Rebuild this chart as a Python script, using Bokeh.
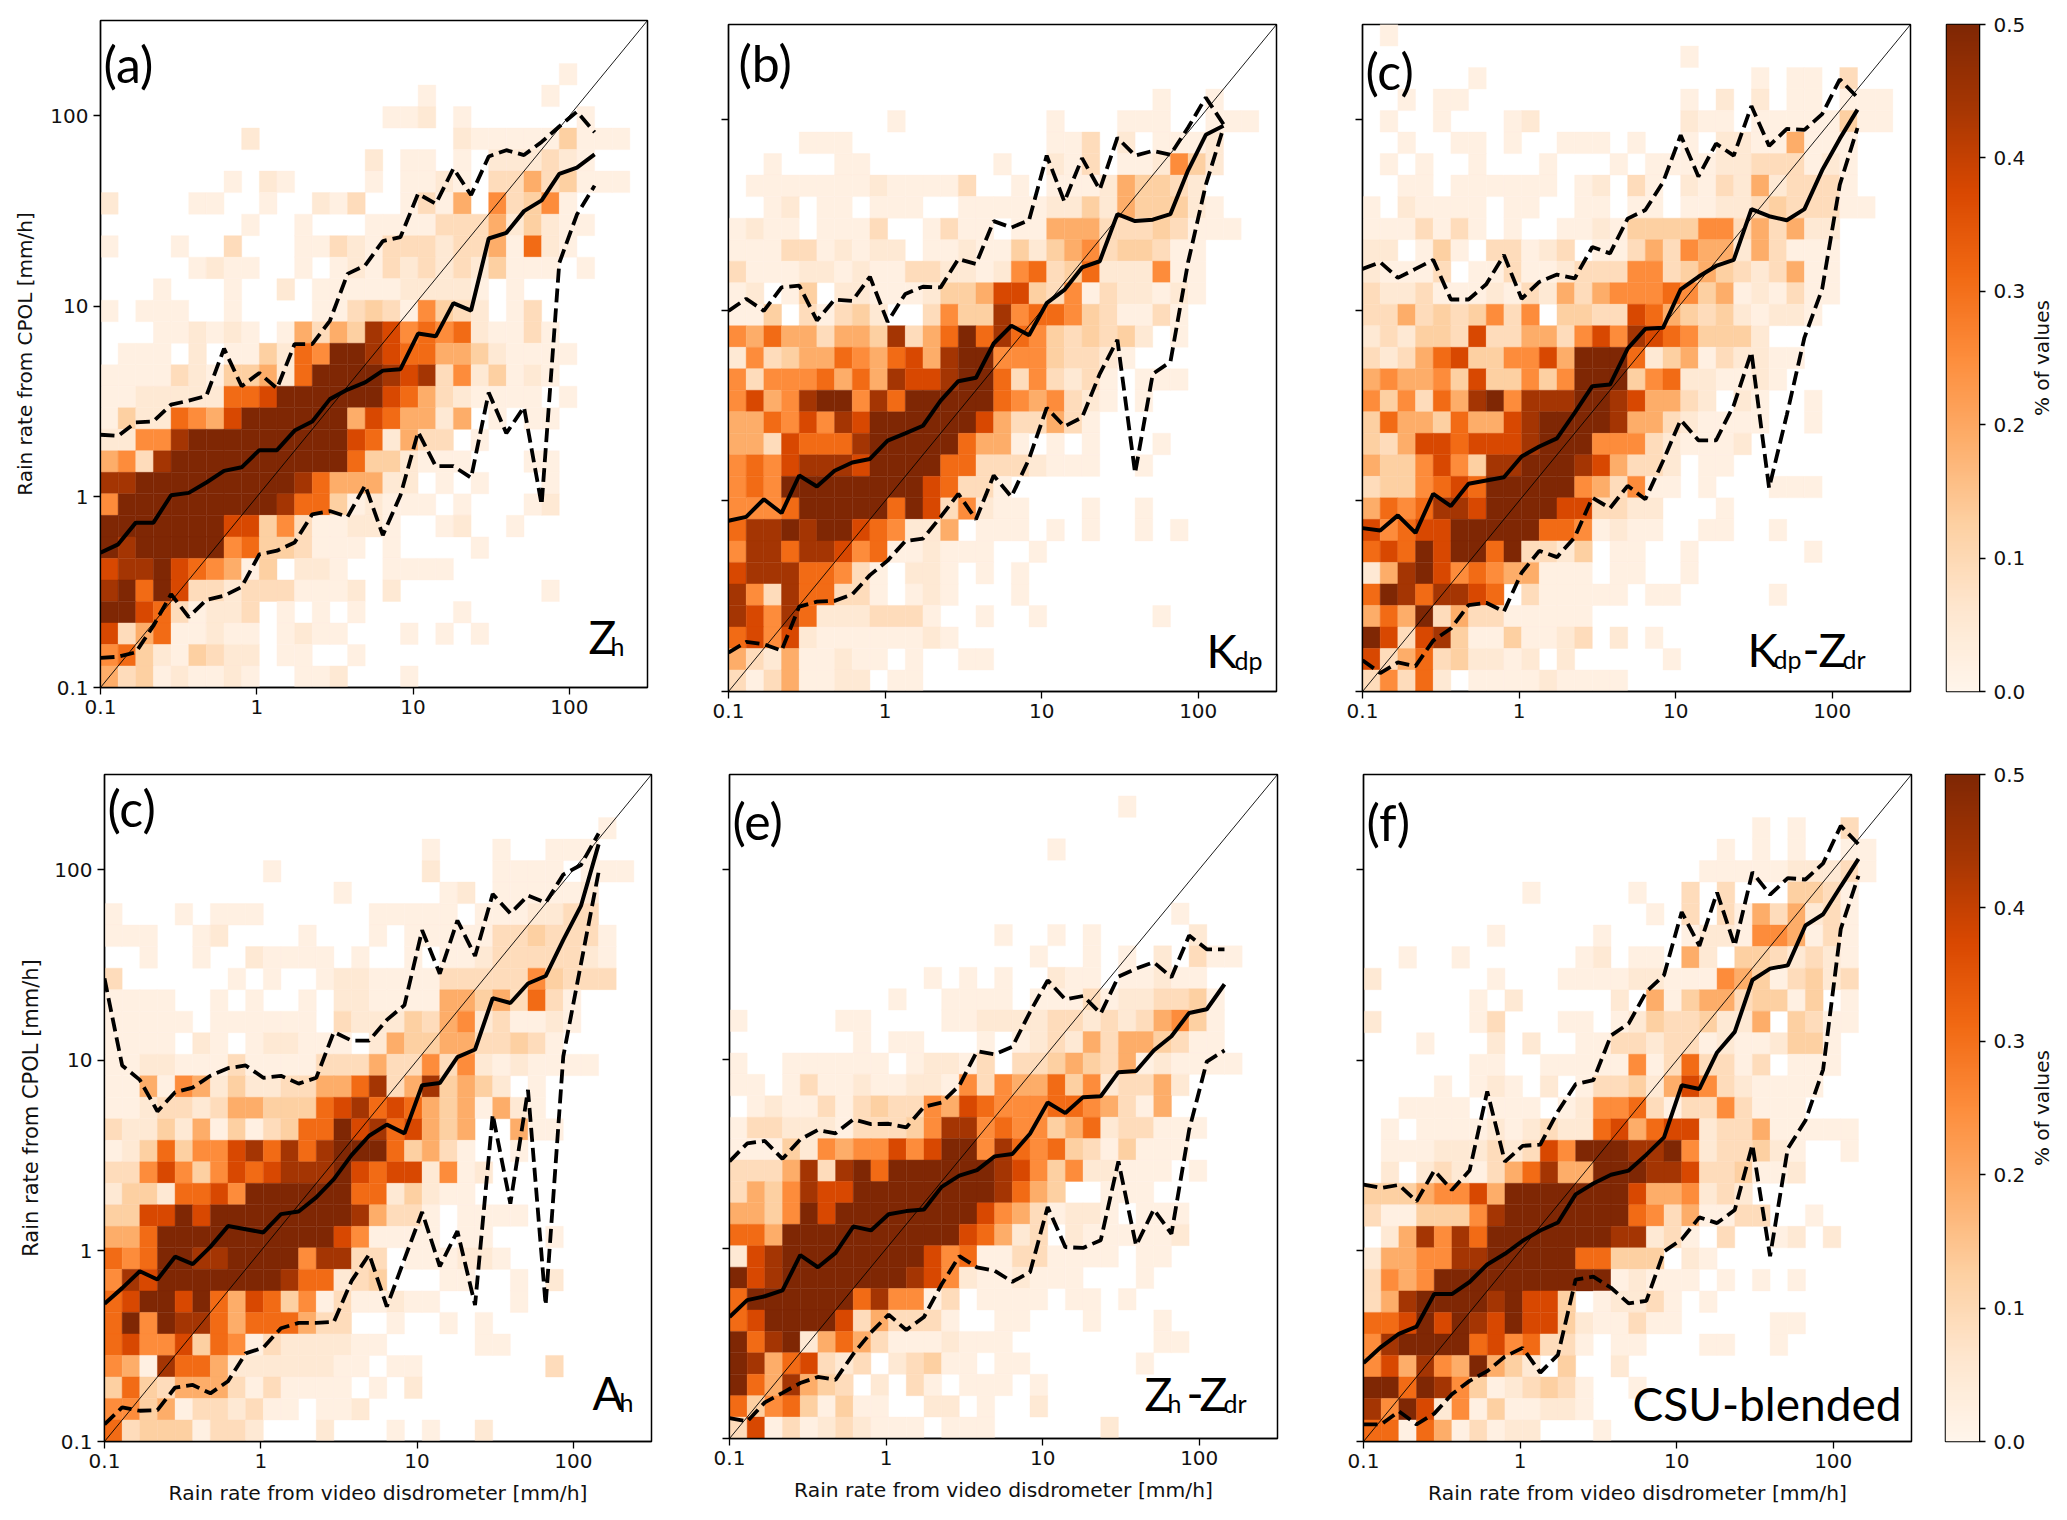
from bokeh.plotting import figure
from bokeh.layouts import column, row
from bokeh.models import ColumnDataSource, LinearColorMapper, FixedTicker, Label
from bokeh.palettes import Oranges256
from bokeh.embed import file_html
from bokeh.resources import INLINE
import numpy as np

BIN_EDGES = [0.1, 0.1297, 0.1682, 0.2181, 0.2829, 0.3669, 0.4758, 0.6171, 0.8003, 1.038, 1.346, 1.746,
             2.264, 2.936, 3.808, 4.938, 6.404, 8.305, 10.77, 13.97, 18.12, 23.5, 30.47, 39.52, 51.25,
             66.47, 86.2, 111.8, 145.0, 188.0, 243.8, 316.2]
AXIS_TICKS = [0.1, 1, 10, 100]
CBAR_TICKS = [0.0, 0.1, 0.2, 0.3, 0.4, 0.5]
LEVELS = {"1": 0.02, "2": 0.05, "3": 0.09, "4": 0.125, "5": 0.19, "6": 0.25, "7": 0.31, "8": 0.375, "9": 0.44, "a": 0.5}

# rows listed top (high CPOL rate) to bottom; columns left to right; "." = no values
HEAT_A = ["", "",
 "..... ..... ..... ..... ..... .1",
 "..... ..... ..... ...1. ..... 1",
 "..... ..... ..... .112. 1.... ..1",
 "..... ...2. ..... ..... 21111 14111",
 "..... ..... ..... 2.11. 1.222 321",
 "..... ..1.2 1.... 1.112 1.335 34111",
 "2.... 11..1 ..213 ..131 5.634 61",
 "..... ...1. .1... 11113 33524 211",
 "1...1 ..3.. .1132 13332 33517 21",
 "..... 1211. .1.12 13232 32411 1.1",
 "...1. ..1.. 2.111 11222 21.1.",
 "1.111 ..1.. ..113 43164 32.13",
 "...11 2121. 15354 98676 72113 1",
 ".111. 2.114 276aa 98775 54211 11",
 "11113 21445 27aaa a9893 62412 1",
 "11222 22778 aaaaa a8753 21111 .1",
 "14227 658aa aaaa5 87552 5.1.1 1",
 "22669 aaaaa aaaa8 72533 .1",
 "5639a aaaaa aaaa7 44211 1...1 1",
 "99aaa aaaaa a9755 522.1 .1... 1",
 "6aaaa aaaaa 97741 2111. 1...1 2",
 "aaaaa aa884 63112 21..1 2..1.",
 "a9aaa aa674 43111 .1... .1",
 "899a8 76514 .221. .1111",
 "9a7a8 33233 31112 .2... ..... 1",
 "aa873 1223. 1.1.1 ..... 1",
 "83571 1211. 1211. ..1.1 .1",
 "67421 4322. 11..1",
 "53412 1121. .112. ..1"]
MED_A = [0.51, 0.564, 0.733, 0.733, 1.02, 1.05, 1.19, 1.37, 1.43, 1.76, 1.76, 2.23, 2.49, 3.26, 3.66, 3.99, 4.6, 4.68, 7.2, 6.96, 10.4, 9.5, 22.7, 24.3, 31.6, 36, 49.6, 53.5, 62.7]
UP_A = [2.12, 2.09, 2.46, 2.49, 3.05, 3.2, 3.39, 6.0, 3.81, 4.47, 3.71, 6.34, 6.34, 8.4, 14.8, 16.4, 22, 23.1, 39, 34.5, 52.9, 38.4, 61.2, 66, 62.2, 72.9, 87.9, 105, 82]
LOW_A = [0.143, 0.145, 0.153, 0.211, 0.309, 0.234, 0.288, 0.303, 0.337, 0.50, 0.522, 0.577, 0.811, 0.843, 0.787, 1.15, 0.63, 1.02, 2.19, 1.45, 1.45, 1.26, 3.53, 2.16, 2.96, 0.91, 16.9, 30.3, 43]

HEAT_B = ["", "", "",
 "..... ..... ..... ..... ....1 ..1",
 "..... ....1 ..... ...1. ..111 ..111",
 "....1 11... ..... ...11 3.2.1 112",
 "..1.. .11.. ..... 1..21 3.112 642",
 ".1111 11121 1113. .1.11 12544 32",
 "..12. 11.11 1..11 11122 42544 421",
 "1211. 1113. .1311 .1155 53334 3111",
 "11133 12122 .1121 14245 63443 11",
 "31112 21211 33221 26734 72226 11",
 "12.14 .2211 12445 88436 13221 21",
 "114.3 1342. .3644 96776 43113 1",
 "65755 35549 357a7 97643 4342. 1",
 "26345 57657 859aa 66643 321",
 "63666 75759 889aa 73632 31.11 1",
 "68569 aa697 aaaaa 76563 21.1.",
 "55768 698aa aaaa8 53353 1",
 "55387 779aa aaa75 51.1. 1...1",
 "67689 998aa aa773 33211 1..1.",
 "676aa aaaaa a8733 1",
 "6667a aaaa7 a8362 11... 1..1.",
 "799a9 aa876 225.1 11.1. 1..1. 1",
 "69979 98671 12111 ..1..",
 "89997 7631. 221.1 .1...",
 "96397 7331. 121.. .1...",
 "98697 22233 31..1 ..1.. ....1",
 "78682 11111 121",
 "53251 1211. 1..11",
 "31351 122.1 1"]
MED_B = [0.787, 0.825, 1.02, 0.864, 1.36, 1.19, 1.44, 1.59, 1.66, 2.07, 2.26, 2.48, 3.36, 4.25, 4.43, 6.7, 8.3, 7.4, 10.9, 12.8, 16.8, 18.1, 32, 29.4, 29.9, 32, 54.3, 83.4, 93]
UP_B = [9.94, 11.5, 9.94, 13.2, 13.5, 8.85, 11.4, 11.2, 15, 8.7, 12.2, 13.3, 13.2, 18.6, 17.5, 29.4, 27.2, 29.7, 64.9, 37.2, 62.9, 43, 80.5, 64.9, 68.7, 65.6, 91, 131, 94.8]
LOW_B = [0.16, 0.182, 0.177, 0.164, 0.279, 0.296, 0.299, 0.323, 0.408, 0.486, 0.615, 0.634, 0.824, 1.09, 0.8, 1.36, 1.05, 1.66, 3.08, 2.46, 2.74, 4.64, 7.0, 1.4, 4.64, 5.37, 17.9, 45.6, 91]

HEAT_C = [
 ".1",
 "..... ..... ..... ...1.",
 "..... .1... ..... ..... ..1.1 1.3",
 "..1.1 1.... ..... ...1. 2.2.1 1.111",
 ".1..1 ...12 ..... ...21 1.111 11411",
 "..1.. 11.1. .111. 1..1. 22115 111",
 ".1.1. .1... 1...1 .1111 22333 121",
 "..11. 11111 1.12. 31.21 32523 331",
 "1.211 11.11 ..11. 11.11 22343 3311",
 "11131 31.1. .1121 44446 63535 22",
 "22.14 1.331 23.11 35365 52531 11",
 "21113 .1131 12333 66345 43235 11",
 "32231 11213 25356 66764 51213 11",
 "33534 34636 .4433 87543 42122 1",
 "23244 38335 53686 98764 442",
 "32357 84466 85aaa 72451 32211",
 "56556 48446 46aaa 46722 1121",
 "64637 59a69 99aa9 85532 .21.. 1",
 "47554 75589 aaaa9 55321 111.. 1",
 "43588 78889 aaa66 63211 12",
 "54468 6499a aa985 332.1 1",
 "34467 87aaa aa653 611.1 ...11 1",
 "57679 98aaa a8833 22... 1",
 "86788 aaaaa 77612 11..1 1..1.",
 "787a8 aa7a3 324.1 1..1. ..... 1",
 "259a8 67655 111.1 1..1.",
 "7a979 987.3 11111 .11.. ...1.",
 "575a3 53311 111",
 "a8389 41141 123.2 .1",
 "83573 42212 .2... ..1",
 "36372 .1111 21111"]
MED_C = [0.72, 0.70, 0.84, 0.68, 1.09, 0.94, 1.23, 1.28, 1.33, 1.71, 1.93, 2.13, 2.9, 4.0, 4.08, 6.3, 8, 8.1, 12.9, 15, 17.1, 18.4, 34, 31.2, 29.7, 34, 54.3, 79.6, 113]
UP_C = [16.5, 17.9, 14.8, 16.5, 18.4, 11.4, 11.4, 13.7, 19.5, 11.5, 14.1, 15.4, 14.7, 21.5, 19.9, 30.3, 33.6, 47, 83, 50.4, 75, 64.9, 118, 72.9, 89.5, 88.5, 107, 163, 131]
LOW_C = [0.146, 0.125, 0.142, 0.136, 0.185, 0.214, 0.284, 0.292, 0.263, 0.42, 0.547, 0.507, 0.644, 1.04, 0.916, 1.2, 1.02, 1.62, 2.66, 2.08, 2.08, 3.17, 6.04, 1.17, 2.82, 7.2, 12.9, 45.6, 90.6]

HEAT_D = ["", "",
 "..... ..... ..... ..... ..... ...1",
 "..... ..... ..... ...1. ..1.. 111",
 "..... ....1 ..... ...2. ..111 1.111",
 "..... ..... ...1. ....1 2.111 112",
 "1...1 .111. ..... 11111 .1112 233",
 "111.. 12... .1... 1.111 11334 3331",
 "..1.. 1..21 111.1 ..1.1 12333 3321",
 "3.... ..1.1 ..122 11113 33336 4333",
 "1111. .1.1. .1.22 11115 54537 31",
 "11111 .1111 11.32 22435 62311 21",
 "1111. 21.12 2111. 25445 53343 1",
 "11221 11311 11333 53363 62121 111",
 "11516 52422 33557 93594 542.1",
 "11233 23554 44789 78754 51521",
 "32242 51413 477a8 97854 5..51 1",
 "12474 66897 979aa a7453 1..1.",
 "33686 46878 999a8 78826 12",
 "24427 786aa aaaa7 72421 1",
 "4488a 8aaaa aaaa9 5331. 1111",
 "557aa aaaaa aaa86 1111. 11... 1",
 "767aa 99aaa a6993 3.111 221",
 "698aa aaaaa 97723 4...1 1..1. 2",
 "78aa8 a7587 46131 1211. ...1.",
 "7a6a9 97577 7533. .1..1 .1",
 "78668 47613 22221 1.... .11",
 "65197 75222 22211 .11.. ..... 3",
 "47435 55313 1111. 1.2",
 "66451 33231 1.112",
 "73444 1332. ..2.. .1.1. .2"]
MED_D = [0.529, 0.638, 0.782, 0.708, 0.933, 0.853, 1.05, 1.35, 1.3, 1.25, 1.56, 1.61, 1.91, 2.38, 3.18, 4.02, 4.6, 4.14, 7.4, 7.6, 10.4, 11.4, 21.2, 20, 25.3, 27.7, 42.9, 64.6, 136]
UP_D = [26.9, 9.4, 7.9, 5.4, 6.8, 7.2, 8.3, 9.1, 9.4, 8.1, 8.3, 7.55, 8.1, 14.1, 12.7, 12.7, 16.3, 19.5, 48.2, 28.5, 54.2, 35.3, 74.6, 59, 73.3, 67.1, 94.4, 106, 155]
LOW_D = [0.123, 0.151, 0.145, 0.146, 0.192, 0.198, 0.179, 0.207, 0.29, 0.311, 0.393, 0.419, 0.419, 0.424, 0.696, 0.96, 0.51, 0.906, 1.6, 0.83, 1.27, 0.52, 5.2, 1.77, 7, 0.52, 10.5, 32, 97]

HEAT_E = ["",
 "..... ..... ..... ..... ..1",
 "",
 "..... ..... ..... ...1.",
 "", "",
 "..... ..... ..... ..... ..... 1",
 "..... ..... ..... 1..1. 1.... .2",
 "..... ..... ..... ..1.. 1.1.2 .311",
 "..... ..... .1.1. 1..21 1.112 11",
 "..... ....1 ..111 1.111 31223 341",
 "1.... .11.. ..112 22233 23235 641",
 "..... ..1.1 1...1 .1232 53554 311",
 "1..11 1111. 12213 .3345 43512 1111",
 "11.13 11211 22163 65574 62335 2",
 ".1211 31343 36587 66677 65315",
 "13322 21333 46996 76645 72331 11",
 "11142 65668 68aa6 97674 31411 1",
 "33359 39a7a aaaaa 98646 22111 .1",
 "35469 88aaa aaaaa 9754. .111",
 "5546a 8aaaa aaaa8 65312 21.11 1",
 "775aa aaaaa aaa87 523.2 11111 2",
 "289aa aaaaa a8671 13311 11.11",
 "a89aa aaaaa 98621 12111 ...1.",
 "7aaaa aa796 613.1 111.1 1.1",
 "78aaa a8353 331.. 11... 1...1",
 "a79a2 57531 11211 1.... ....1 1",
 "a9578 323.2 3411. 11... ...1.",
 "a7595 43.2. 31.11 1.1",
 "74674 1411. .22.1 ..2",
 "38131 23211 1.111 ..... .2"]
MED_E = [0.437, 0.536, 0.562, 0.603, 0.925, 0.799, 0.951, 1.31, 1.25, 1.52, 1.58, 1.61, 2.12, 2.43, 2.6, 3.07, 3.16, 4.04, 5.9, 5.19, 6.3, 6.37, 8.53, 8.65, 11.1, 13.2, 17.5, 18.3, 24.8]
UP_E = [2.89, 3.59, 3.7, 2.98, 3.77, 4.23, 4.06, 4.81, 4.54, 4.56, 4.36, 5.6, 5.9, 7.25, 11, 10.6, 11.6, 17.7, 26, 20.6, 21.5, 17.4, 27.2, 30, 32.4, 27, 44.8, 37.9, 37.9]
LOW_E = [0.128, 0.123, 0.155, 0.174, 0.196, 0.211, 0.204, 0.279, 0.362, 0.45, 0.373, 0.437, 0.65, 0.914, 0.798, 0.766, 0.67, 0.753, 1.66, 1.02, 1.01, 1.11, 2.89, 1.04, 1.61, 1.2, 4.23, 9.7, 11.1]

HEAT_F = ["", "",
 "..... ..... ..... ..... ..1.1 ..3",
 "..... ..... ..... ..... 1.1.1 ..11",
 "..... ..... ..... ....1 11112 2231",
 "..... ....1 ..... 1..3. 3...4 431",
 "..... ..... ..... .1.3. 31535 231",
 "..... ..1.. ...1. ...12 21665 131",
 "..1.. 1.... ..12. 11.52 .4432 321",
 "2.... ..1.. .1111 22111 65413 423",
 "..... .1.2. ....2 .5145 53441 4.1",
 "2.... .13.. .11.1 24334 225.4 311",
 "...1. ..2.2 ..113 32331 21124 41",
 "..... .11.. 11111 61373 313.1 11",
 "....1 .121. 2.133 42586 32111 1",
 "..111 1.111 .1266 73133 63111",
 ".1.11 11212 32278 57882 33511 111",
 ".1112 22323 86aaa 99a62 33421 ..1",
 ".2.23 21357 955aa a9983 34112",
 "44456 685aa aaaaa 85562 32",
 "31144 469aa aaaaa 76351 133.. 1",
 ".2596 97aaa aaaa9 9231. 3..12 .2",
 "25566 99aaa aa774 44.21",
 "3656a aaaaa aaaa1 2111. 1.1.1",
 "359aa aa9a8 84.12 231.1",
 "778a8 a98a8 84211 311.. ...11",
 "69aaa a7867 331.1 1...1 1..1.",
 "68596 5a542 .4..2",
 "aa7a9 64123 431.. 1",
 "96a82 61411 221",
 "77175 13122 ...1."]
MED_F = [0.258, 0.314, 0.367, 0.401, 0.594, 0.594, 0.687, 0.849, 0.966, 1.13, 1.28, 1.41, 1.98, 2.26, 2.51, 2.64, 3.2, 3.94, 7.4, 7.08, 11, 14.1, 26.4, 30.3, 31.5, 51, 58.4, 81.9, 114]
UP_F = [2.23, 2.14, 2.22, 1.82, 2.64, 2.09, 2.64, 6.87, 2.94, 3.56, 3.61, 5.4, 7.5, 7.87, 13.5, 15.6, 22.9, 28, 60, 39.9, 76, 39.9, 97, 74, 90.5, 88.9, 108, 170, 136]
LOW_F = [0.123, 0.123, 0.144, 0.123, 0.14, 0.177, 0.208, 0.234, 0.279, 0.31, 0.23, 0.285, 0.708, 0.733, 0.641, 0.531, 0.547, 0.994, 1.15, 1.5, 1.4, 1.64, 3.61, 0.937, 3.44, 4.83, 8.95, 49, 93]

mapper = LinearColorMapper(palette=list(reversed(Oranges256)), low=0.0, high=0.5)
AX_MIN, AX_MAX = BIN_EDGES[0], BIN_EDGES[-1]
DEC = np.log10(AX_MAX / AX_MIN)
FW, FH = 548, 667
UI = "DejaVu Sans"
ANN = "Lato"


def style_axes(p, show_y_labels=False, xlabel=None, ylabel=None, ylabel_size=20, ylabel_standoff=10):
    lab = {t: str(t) for t in AXIS_TICKS}
    blank = {t: "" for t in AXIS_TICKS}
    for ax in (p.xaxis[0], p.yaxis[0]):
        ax.ticker = FixedTicker(ticks=AXIS_TICKS)
        ax.major_tick_in = 0
        ax.major_tick_out = 7
        ax.major_tick_line_width = 1.3
        ax.major_tick_line_color = "black"
        ax.minor_tick_line_color = None
        ax.axis_line_color = "black"
        ax.axis_line_width = 1.3
        ax.major_label_text_font = UI
        ax.major_label_text_font_size = "20px"
        ax.major_label_text_color = "#111111"
        ax.major_label_standoff = 5
        ax.axis_label_text_font = UI
        ax.axis_label_text_font_style = "normal"
        ax.axis_label_text_color = "#111111"
    p.xaxis[0].major_label_overrides = lab
    p.yaxis[0].major_label_overrides = lab if show_y_labels else blank
    if xlabel:
        p.xaxis[0].axis_label = xlabel
        p.xaxis[0].axis_label_standoff = 10
        p.xaxis[0].axis_label_text_font_size = "20.3px"
    if ylabel:
        p.yaxis[0].axis_label = ylabel
        p.yaxis[0].axis_label_standoff = ylabel_standoff
        p.yaxis[0].axis_label_text_font_size = f"{ylabel_size}px"
    p.yaxis[0].major_label_orientation = "horizontal"


def panel(rows, med, up, low, labels, width, height, ml, mr, mt, mb, fw=FW, fh=FH, top_gap=0, **kw):
    p = figure(width=width, height=height, x_axis_type="log", y_axis_type="log",
               x_range=(AX_MIN, AX_MAX), y_range=(AX_MIN, AX_MAX),
               output_backend="svg", toolbar_location=None,
               min_border_left=ml, min_border_right=mr, min_border_top=mt, min_border_bottom=mb,
               background_fill_color="white", border_fill_color="white", margin=(top_gap, 0, 0, 0))
    p.grid.visible = False
    p.outline_line_color = "black"
    p.outline_line_width = 1.5
    style_axes(p, **kw)
    L, R, Bo, T, V = [], [], [], [], []
    for ri, r in enumerate(rows):
        s = r.replace(" ", "").ljust(31, ".")
        k = 30 - ri
        for j, ch in enumerate(s):
            if ch != ".":
                L.append(BIN_EDGES[j]); R.append(BIN_EDGES[j + 1])
                Bo.append(BIN_EDGES[k]); T.append(BIN_EDGES[k + 1])
                V.append(LEVELS[ch])
    src = ColumnDataSource(dict(left=L, right=R, bottom=Bo, top=T, v=V))
    p.quad(left="left", right="right", bottom="bottom", top="top", source=src,
           fill_color={"field": "v", "transform": mapper},
           line_color={"field": "v", "transform": mapper}, line_width=0.4)
    p.line([AX_MIN, AX_MAX], [AX_MIN, AX_MAX], line_color="black", line_width=0.9)
    xs = BIN_EDGES[:29]
    p.line(xs, med, line_color="black", line_width=4)
    p.line(xs, up, line_color="black", line_width=3.8, line_dash="14 6")
    p.line(xs, low, line_color="black", line_width=3.8, line_dash="14 6")
    for text, size, px, py, base in labels:
        # px, py in pixels from the frame's left and bottom edge
        if base == "alphabetic":
            py = py + 0.46 * size
        p.add_layout(Label(x=AX_MIN * 10 ** (DEC * px / fw), y=AX_MIN * 10 ** (DEC * py / fh),
                           text=text, text_font=ANN, text_font_size=f"{size}px",
                           text_color="black", text_baseline=base, text_align="left"))
    return p


def cbar(width, height, ml, mr, mt, mb, top_gap=0):
    p = figure(width=width, height=height, x_range=(0, 1), y_range=(0.0, 0.5), y_axis_location="right",
               output_backend="svg", toolbar_location=None,
               min_border_left=ml, min_border_right=mr, min_border_top=mt, min_border_bottom=mb,
               margin=(top_gap, 0, 0, 0))
    p.grid.visible = False
    p.xaxis.visible = False
    p.outline_line_color = "black"
    p.outline_line_width = 1.5
    grad = np.linspace(0, 0.5, 256).reshape(256, 1)
    p.image(image=[grad], x=0, y=0.0, dw=1, dh=0.5, color_mapper=mapper)
    ax = p.yaxis[0]
    ax.ticker = FixedTicker(ticks=CBAR_TICKS)
    ax.major_label_overrides = {t: f"{t:.1f}" for t in CBAR_TICKS}
    ax.major_tick_in = 0
    ax.major_tick_out = 6
    ax.major_tick_line_width = 1.3
    ax.minor_tick_line_color = None
    ax.major_label_text_font = UI
    ax.major_label_text_font_size = "20px"
    ax.major_label_text_color = "#111111"
    ax.major_label_standoff = 8
    ax.major_label_orientation = "horizontal"
    return p


def cbar_title(width, height, mt, mb, top_gap=0):
    p = figure(width=width, height=height, x_range=(0, 1), y_range=(0.0, 0.5),
               output_backend="svg", toolbar_location=None,
               min_border_left=0, min_border_right=0, min_border_top=mt, min_border_bottom=mb,
               margin=(top_gap, 0, 0, 0))
    p.grid.visible = False
    p.axis.visible = False
    p.outline_line_color = None
    p.add_layout(Label(x=0.5, y=0.25, text="% of values", angle=90, angle_units="deg",
                       text_font=UI, text_font_size="20px", text_color="#111111",
                       text_align="center", text_baseline="middle"))
    return p


XL = "Rain rate from video disdrometer [mm/h]"
YL = "Rain rate from CPOL [mm/h]"
B = "alphabetic"
M = "middle"
S = 25

a = panel(HEAT_A, MED_A, UP_A, LOW_A,
          [("(a)", 50, 3, 667 - 43, M), ("Z", 46, 488, 30, B), ("h", S, 510, 30, B)],
          690, 746, 100, 43, 20, 59, fw=547, show_y_labels=True, ylabel=YL, ylabel_size=20, ylabel_standoff=10)
b = panel(HEAT_B, MED_B, UP_B, LOW_B,
          [("(b)", 50, 10, 667 - 38, M), ("K", 46, 478, 20, B), ("dp", S, 506, 20, B)],
          630, 746, 38, 44, 20, 59, top_gap=4)
c = panel(HEAT_C, MED_C, UP_C, LOW_C,
          [("(c)", 50, 3, 667 - 46, M), ("K", 46, 385, 21, B), ("dp", S, 411, 21, B), ("-", 46, 440, 21, B),
           ("Z", 46, 456, 21, B), ("dr", S, 480, 21, B)],
          610, 746, 42, 20, 20, 59, top_gap=4)
cb1 = cbar(98, 746, 16, 48, 20, 59, top_gap=4)
ct1 = cbar_title(26, 746, 20, 59, top_gap=4)

d = panel(HEAT_D, MED_D, UP_D, LOW_D,
          [("(c)", 50, 3, 667 - 33, M), ("A", 46, 488, 28, B), ("h", S, 515, 28, B)],
          690, 762, 104, 39, 24, 71, fw=547, show_y_labels=True, xlabel=XL, ylabel=YL, ylabel_size=21, ylabel_standoff=8)
e = panel(HEAT_E, MED_E, UP_E, LOW_E,
          [("(e)", 50, 3, 664 - 46, M), ("Z", 46, 415, 24, B), ("h", S, 438, 24, B), ("-", 46, 457, 24, B),
           ("Z", 46, 470, 24, B), ("dr", S, 494, 24, B)],
          630, 759, 39, 43, 24, 71, fh=664, xlabel=XL)
f = panel(HEAT_F, MED_F, UP_F, LOW_F,
          [("(f)", 50, 3, 667 - 47, M), ("CSU-blended", 46, 269, 17, B)],
          610, 762, 43, 19, 24, 71, xlabel=XL)
cb2 = cbar(98, 762, 15, 49, 24, 71)
ct2 = cbar_title(26, 762, 24, 71)

page = column(row(a, b, c, cb1, ct1, spacing=0), row(d, e, f, cb2, ct2, spacing=0), spacing=0)
open("out.html", "w").write(file_html(page, INLINE))
